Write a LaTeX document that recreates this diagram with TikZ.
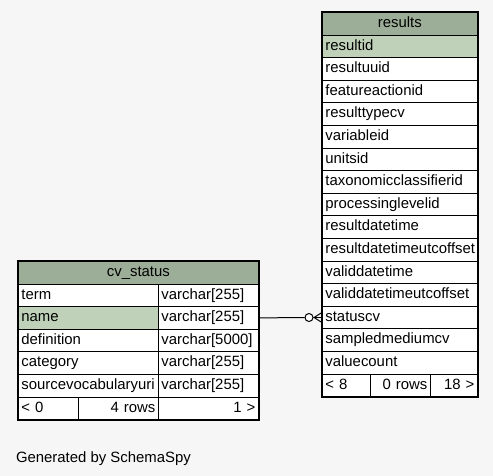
\documentclass[tikz,border=0pt]{standalone}
\usepackage{fontspec}
\setmainfont{Liberation Sans}
\usetikzlibrary{calc}
\definecolor{hdrgreen}{HTML}{9DAE98}
\definecolor{keygreen}{HTML}{BFD2B9}
\definecolor{paper}{HTML}{F6F6F6}
\tikzset{
	cell/.style={draw,line width=0.8pt,fill=white,anchor=north west,minimum height=22.6pt,
		inner xsep=3pt,inner ysep=0pt,text height=10.5pt,text depth=3pt,align=left},
	hdr/.style={cell,fill=hdrgreen,align=center},
	keycell/.style={cell,fill=keygreen},
	rcell/.style={cell,align=right}
}

\begin{document}
\begin{tikzpicture}[x=1pt,y=-1pt,font=\fontsize{14.9}{17}\selectfont]
	\fill[paper] (0,0) rectangle (493,476);
	\useasboundingbox (0,0) rectangle (493,476);

	\node[hdr,text width=149pt] (res-h) at (322,12) {results};
	\node[keycell,text width=149pt] (res-1) at (322,34.6) {resultid};
	\foreach \fld [count=\i from 2] in {resultuuid,featureactionid,resulttypecv,variableid,unitsid,
		taxonomicclassifierid,processinglevelid,resultdatetime,resultdatetimeutcoffset,validdatetime,
		validdatetimeutcoffset,statuscv,sampledmediumcv,valuecount}
		\node[cell,text width=149pt] (res-\i) at (322,{12+\i*22.6}) {\fld};
	\node[cell,text width=42pt] (res-l) at (322,373.6) {< 8};
	\node[rcell,text width=54pt] (res-n) at (370,373.6) {0 rows};
	\node[rcell,text width=41pt] (res-r) at (430,373.6) {18 >};
	\draw[line width=1.6pt] (res-h.north west) rectangle (res-r.south east);

	\node[hdr,text width=234pt] (cv-h) at (18,261) {cv\_status};
	\foreach \fld/\typ [count=\i] in {term/varchar[255],name/varchar[255],definition/varchar[5000],
		category/varchar[255],sourcevocabularyuri/varchar[255]}{
		\node[cell,text width=134pt] (cv-\i) at (18,{261+\i*22.6}) {\fld};
		\node[cell,text width=94pt] (cv-\i t) at (158,{261+\i*22.6}) {\typ};
	}
	\node[keycell,text width=134pt] (cv-2) at (18,306.2) {name};
	\node[cell,text width=54pt] (cv-l) at (18,396.6) {< 0};
	\node[rcell,text width=74pt] (cv-n) at (78,396.6) {4 rows};
	\node[rcell,text width=94pt] (cv-r) at (158,396.6) {1 >};
	\draw[line width=2.6pt] (cv-h.north west) rectangle (cv-r.south east);

	\node[draw,circle,line width=1pt,fill=white,minimum size=8pt,inner sep=0pt] (zero) at ($(res-13.west)+(-13,0)$) {};
	\coordinate (foot) at ($(res-13.west)+(-8,0)$);
	\draw[line width=1pt] (cv-2t.east) -- (zero);
	\draw[line width=1pt] (zero) -- (res-13.west);
	\draw[line width=1pt] ($(res-13.west)+(0,-5)$) -- (foot) -- ($(res-13.west)+(0,5)$);

	\node[anchor=west] (gen) at (12.5,459) {Generated by SchemaSpy};
\end{tikzpicture}
\end{document}
